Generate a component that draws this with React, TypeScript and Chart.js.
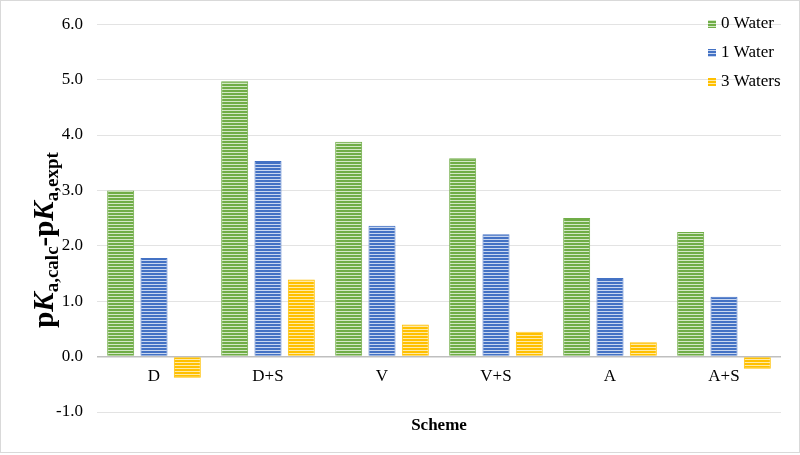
import React, { useEffect, useRef } from "react";
import { Chart, registerables } from "chart.js";

Chart.register(...registerables);

const categories = ["D", "D+S", "V", "V+S", "A", "A+S"];
const seriesNames = ["0 Water", "1 Water", "3 Waters"];
const water0 = [3.0, 4.97, 3.88, 3.58, 2.5, 2.25];
const water1 = [1.78, 3.53, 2.36, 2.21, 1.42, 1.08];
const water3 = [-0.38, 1.39, 0.58, 0.45, 0.26, -0.22];
const yMin = -1;
const yMax = 6;
const yStep = 1;
const xTitle = "Scheme";
const seriesColors = ["#70ad47", "#4472c4", "#ffc000"];
const seriesLight = ["#d3e8c6", "#c9d7f0", "#ffeaa8"];

const FONT = '"Liberation Serif", "Times New Roman", serif';

function makePattern(color: string, light: string): CanvasPattern | string {
  const c = document.createElement("canvas");
  c.width = 4;
  c.height = 3;
  const g = c.getContext("2d");
  if (!g) return color;
  g.fillStyle = color;
  g.fillRect(0, 0, 4, 3);
  g.fillStyle = light;
  g.fillRect(0, 2, 4, 1);
  return g.createPattern(c, "repeat") || color;
}

export default function App() {
  const ref = useRef<HTMLCanvasElement | null>(null);

  useEffect(() => {
    const canvas = ref.current;
    if (!canvas) return;
    const patterns = seriesColors.map((c, i) => makePattern(c, seriesLight[i]));
    const values = [water0, water1, water3];

    const overlay = {
      id: "overlay",
      afterDraw(chart: any) {
        const ctx = chart.ctx as CanvasRenderingContext2D;
        const area = chart.chartArea;
        const xs = chart.scales.x;
        const ys = chart.scales.y;
        ctx.save();
        // outer border
        ctx.strokeStyle = "#d9d9d9";
        ctx.lineWidth = 1;
        ctx.strokeRect(0.5, 0.5, 799, 452);

        // category labels next to the zero line
        const zeroY = ys.getPixelForValue(0);
        ctx.fillStyle = "#000";
        ctx.font = `17px ${FONT}`;
        ctx.textAlign = "center";
        ctx.textBaseline = "middle";
        categories.forEach((c, i) => {
          ctx.fillText(c, xs.getPixelForValue(i), zeroY + 20);
        });

        // x title
        ctx.font = `bold 17px ${FONT}`;
        ctx.fillText(xTitle, (area.left + area.right) / 2, 426);

        // y title with rich text
        const segs = [
          { t: "p", f: `bold 29px ${FONT}`, dy: 0 },
          { t: "K", f: `italic bold 29px ${FONT}`, dy: 0 },
          { t: "a,calc", f: `bold 19px ${FONT}`, dy: 5 },
          { t: "-p", f: `bold 29px ${FONT}`, dy: 0 },
          { t: "K", f: `italic bold 29px ${FONT}`, dy: 0 },
          { t: "a,expt", f: `bold 19px ${FONT}`, dy: 5 },
        ];
        let total = 0;
        const widths = segs.map((s) => {
          ctx.font = s.f;
          const w = ctx.measureText(s.t).width;
          total += w;
          return w;
        });
        ctx.translate(53, 240);
        ctx.rotate(-Math.PI / 2);
        ctx.textAlign = "left";
        ctx.textBaseline = "alphabetic";
        let x = -total / 2;
        segs.forEach((s, i) => {
          ctx.font = s.f;
          ctx.fillText(s.t, x, s.dy);
          x += widths[i];
        });
        ctx.setTransform(1, 0, 0, 1, 0, 0);

        // legend
        ctx.font = `17px ${FONT}`;
        ctx.textAlign = "left";
        ctx.textBaseline = "middle";
        const ly = [24, 53, 82];
        seriesNames.forEach((n, i) => {
          ctx.fillStyle = patterns[i] as any;
          ctx.fillRect(708, ly[i] - 4, 8, 8);
          ctx.fillStyle = "#000";
          ctx.fillText(n, 721, ly[i]);
        });
        ctx.restore();
      },
    };

    const chart = new Chart(canvas, {
      type: "bar",
      data: {
        labels: categories,
        datasets: seriesNames.map((n, i) => ({
          label: n,
          data: values[i],
          backgroundColor: patterns[i] as any,
          borderColor: seriesColors[i],
          borderWidth: 1,
          categoryPercentage: 0.877,
          barPercentage: 0.81,
        })),
      },
      options: {
        responsive: false,
        animation: false,
        devicePixelRatio: 1,
        layout: { padding: { top: 17, right: 19, bottom: 43, left: 0 } },
        plugins: {
          legend: { display: false },
          tooltip: { enabled: false },
        },
        scales: {
          x: { display: false },
          y: {
            min: yMin,
            max: yMax,
            afterFit: (scale: any) => {
              scale.width = 97;
            },
            ticks: {
              stepSize: yStep,
              padding: 14,
              color: "#000",
              font: { family: FONT, size: 17 },
              callback: (v: any) => Number(v).toFixed(1),
            },
            border: { display: false },
            grid: {
              drawTicks: false,
              color: (c: any) => (c.tick && c.tick.value === 0 ? "#bfbfbf" : "#e3e3e3"),
              lineWidth: (c: any) => (c.tick && c.tick.value === 0 ? 1.5 : 1),
            },
          },
        },
      },
      plugins: [overlay],
    });
    return () => chart.destroy();
  }, []);

  return (
    <div style={{ position: "absolute", left: 0, top: 0, width: 800, height: 455, background: "#fff" }}>
      <canvas ref={ref} width={800} height={455} style={{ display: "block", width: 800, height: 455 }} />
    </div>
  );
}
